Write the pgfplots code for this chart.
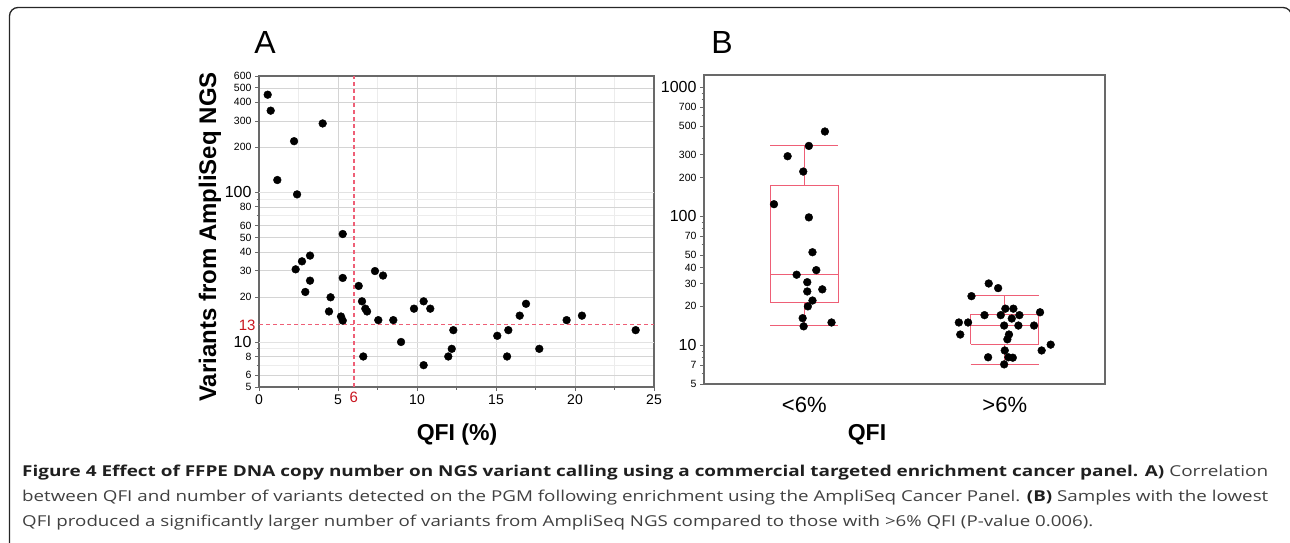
\documentclass[border=0pt]{standalone}
\usepackage{fontspec}
\setmainfont{Liberation Sans}
\newfontfamily\capfont{Open Sans}
\usepackage{graphicx}
\usepackage{pgfplots}
\pgfplotsset{compat=1.18}

\definecolor{refred}{RGB}{238,95,118}
\definecolor{labred}{RGB}{200,20,30}
\definecolor{axgray}{RGB}{105,105,105}
\definecolor{gridlt}{RGB}{236,236,236}
\definecolor{griddk}{RGB}{212,212,212}

\newcommand\sm[1]{{\fontsize{10.5}{10.5}\selectfont #1}}
\newcommand\lgt[1]{{\fontsize{16}{16}\selectfont #1}}

\begin{document}
\begin{tikzpicture}
\useasboundingbox (0pt,0pt) rectangle (1290pt,-542pt);
% outer frame of the figure
\draw[line width=1.3pt, black!85] (9.5pt,-560pt) -- (9.5pt,-16pt)
  arc[start angle=180,end angle=90,radius=8.5pt] -- (1283pt,-7.5pt)
  arc[start angle=90,end angle=0,radius=8.5pt] -- (1291.5pt,-560pt);

% ---------------- panel A
\begin{axis}[
  at={(259pt,-387pt)}, anchor=south west,
  scale only axis, width=395pt, height=311pt,
  xmin=0, xmax=25, ymin=5, ymax=600,
  ymode=log, log basis y=10,
  xtick={0,5,10,15,20,25}, xticklabels={0,5,10,15,20,25},
  minor xtick={2.5,7.5,12.5,17.5,22.5},
  ytick={5,6,8,10,20,30,40,50,60,80,100,200,300,400,500,600},
  yticklabels={\sm{5},\sm{6},\sm{8},\lgt{10},\sm{20},\sm{30},\sm{40},\sm{50},\sm{60},\sm{80},\lgt{100},\sm{200},\sm{300},\sm{400},\sm{500},\sm{600}},
  minor ytick={7,9,70,90},
  grid=both,
  major grid style={griddk, line width=0.7pt},
  minor grid style={gridlt, line width=0.7pt},
  axis line style={axgray, line width=1.2pt},
  tick align=outside, xtick pos=bottom, ytick pos=left,
  major tick length=4pt, minor tick length=2.5pt,
  tick style={axgray, line width=0.8pt},
  x tick label style={font=\fontsize{14}{14}\selectfont},
  extra y ticks={13}, extra y tick labels={\textcolor{labred}{\fontsize{15}{15}\selectfont 13}},
  extra y tick style={grid=none, major tick length=0pt},
  clip=false,
]
\addplot[gridlt!60!griddk, line width=0.9pt, forget plot] coordinates {(0,10)(25,10)};
\addplot[gridlt!60!griddk, line width=0.9pt, forget plot] coordinates {(0,100)(25,100)};
\addplot[color=refred, line width=1.1pt, dash pattern=on 4pt off 3pt] coordinates {(0,13)(25,13)};
\addplot[color=refred, line width=1.5pt, dash pattern=on 4pt off 3pt] coordinates {(6,5)(6,600)};
\addplot[only marks, mark=*, mark size=3.9pt, black] coordinates {
(0.55,450)(0.74,352)(4.03,289)(2.22,220)(1.16,121)(2.41,97)(5.3,52.7)
(3.23,37.8)(2.32,30.6)(2.72,34.6)(3.23,25.7)(2.93,21.6)(4.53,19.9)(4.43,16)
(5.19,14.8)(5.3,13.9)(5.3,26.8)(6.31,23.7)(6.52,18.7)(6.73,16.7)(6.84,16.0)
(6.6,8)(7.34,29.8)(7.85,27.8)(7.55,14)(8.5,14)(8.99,10)(9.81,16.7)
(10.42,18.7)(10.84,16.7)(10.42,7)(12.3,12)(12.2,9)(11.98,8)(15.08,11)
(15.78,12)(15.7,8)(16.5,15)(16.9,18)(17.74,9)(19.47,14)(20.44,15)(23.84,12)
};
\node[text=labred, font=\fontsize{15}{15}\selectfont, anchor=center] at (axis cs:6,5) [yshift=-10pt] {6};
\end{axis}

% ---------------- panel B
\begin{axis}[
  at={(704pt,-384pt)}, anchor=south west,
  scale only axis, width=401pt, height=309pt,
  xmin=0.5, xmax=2.5, ymin=5, ymax=1245,
  ymode=log, log basis y=10,
  xtick={1,2}, xticklabels={<6\%,>6\%},
  x tick label style={font=\fontsize{22}{22}\selectfont, yshift=-6pt},
  x tick style={draw=none},
  ytick={5,7,10,20,30,40,50,70,100,200,300,500,700,1000},
  yticklabels={\sm{5},\sm{7},\lgt{10},\sm{20},\sm{30},\sm{40},\sm{50},\sm{70},\lgt{100},\sm{200},\sm{300},\sm{500},\sm{700},\lgt{1000}},
  minor ytick={6,8,9,60,80,90,400,600,800,900},
  axis line style={axgray, line width=1.2pt},
  tick align=outside, ytick pos=left, xtick pos=bottom,
  major tick length=4pt, minor tick length=2.5pt,
  y tick style={axgray, line width=0.8pt},
  unbounded coords=jump,
]
% box <6%: whiskers 14.3 / 353, quartiles 21.5 / 173, median 35.3
\addplot[refred, line width=1pt] coordinates {
(0.83,21.5)(1.17,21.5)(1.17,173)(0.83,173)(0.83,21.5) (1,nan)
(0.83,35.3)(1.17,35.3) (1,nan)
(1,173)(1,353) (1,nan) (0.83,353)(1.17,353) (1,nan)
(1,21.5)(1,14.3) (1,nan) (0.83,14.3)(1.17,14.3)
};
% box >6%: whiskers 7.1 / 24.2, quartiles 10.2 / 17.2, median 14.3
\addplot[refred, line width=1pt] coordinates {
(1.83,10.2)(2.17,10.2)(2.17,17.2)(1.83,17.2)(1.83,10.2) (2,nan)
(1.83,14.3)(2.17,14.3) (2,nan)
(2,17.2)(2,24.2) (2,nan) (1.83,24.2)(2.17,24.2) (2,nan)
(2,10.2)(2,7.1) (2,nan) (1.83,7.1)(2.17,7.1)
};
\addplot[only marks, mark=*, mark size=3.9pt, black] coordinates {
(1.103,454)(1.023,351)(0.917,292)(0.995,222)(0.849,124)(1.023,98)(1.041,52.6)
(1.06,38.2)(0.962,35.2)(1.015,30.8)(1.015,26.1)(1.09,27.1)(1.041,22.2)
(1.018,20)(0.992,16.2)(0.997,14)(1.136,15)
};
\addplot[only marks, mark=*, mark size=3.9pt, black] coordinates {
(1.92,30.1)(1.967,27.7)(1.834,24)(2.003,19.2)(2.043,19.2)(2.176,18)
(1.899,17.1)(1.98,17.1)(2.073,17.1)(2.035,16.1)(1.771,15)(1.817,15)
(1.997,14.2)(2.068,14.2)(2.146,14.2)(1.778,12.1)(2.021,12.1)(2.013,11.1)
(2.229,10.1)(2.184,9.1)(2.0,9.1)(1.917,8.06)(2.018,8.06)(2.04,8)(1.997,7.1)
};
\end{axis}

% labels
\node[font=\fontsize{32}{32}\selectfont] at (265pt,-42pt) {A};
\node[font=\fontsize{32}{32}\selectfont] at (722pt,-42pt) {B};
\node[rotate=90, font=\bfseries\fontsize{24}{24}\selectfont] at (210pt,-237pt) {Variants from AmpliSeq NGS};
\node[font=\bfseries\fontsize{23}{23}\selectfont] at (457pt,-435pt) {QFI (\%)};
\node[font=\bfseries\fontsize{23}{23}\selectfont] at (867pt,-435pt) {QFI};

% caption
\begin{scope}[every node/.style={anchor=base west, inner sep=0pt, text=black!88}]
\node at (22pt,-476pt) {\resizebox{1246pt}{\height}{\capfont\fontsize{15}{15}\selectfont\textbf{Figure 4 Effect of FFPE DNA copy number on NGS variant calling using a commercial targeted enrichment cancer panel. A)} \textcolor{black!75}{Correlation}}};
\node at (22pt,-501pt) {\resizebox{1246pt}{\height}{\capfont\fontsize{15}{15}\selectfont\color{black!75} between QFI and number of variants detected on the PGM following enrichment using the AmpliSeq Cancer Panel. \textcolor{black!88}{\textbf{(B)}} Samples with the lowest}};
\node at (22pt,-526pt) {\resizebox{1071pt}{\height}{\capfont\fontsize{15}{15}\selectfont\color{black!75} QFI produced a significantly larger number of variants from AmpliSeq NGS compared to those with >6\% QFI (P-value 0.006).}};
\end{scope}
\end{tikzpicture}
\end{document}
